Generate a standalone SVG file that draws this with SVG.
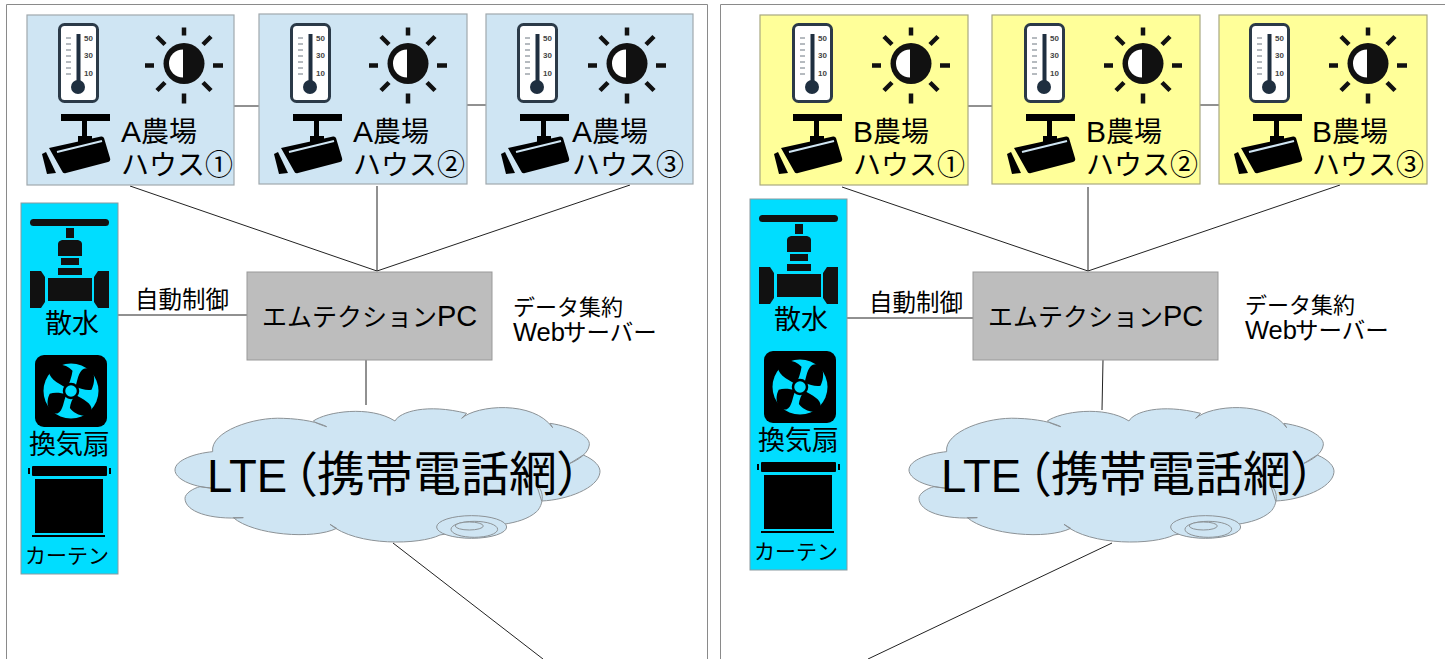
<svg xmlns="http://www.w3.org/2000/svg" width="1445" height="659" viewBox="0 0 1445 659">
<style>
text{font-family:"Liberation Sans","Noto Sans CJK JP",sans-serif;fill:#000}
.frame{fill:#fff;stroke:#8a8a8a;stroke-width:1}
.a{fill:#cfe5f3;stroke:#a0a8ad;stroke-width:1.2}
.b{fill:#ffff99;stroke:#a8a880;stroke-width:1.2}
.c{fill:#00ddff;stroke:#8a9aa0;stroke-width:1}
.pc{fill:#bdbdbd;stroke:#999;stroke-width:1}
.l{stroke:#222;stroke-width:1;fill:none}
.h{font-size:28px}
.la{font-size:30px}
.m{font-size:23.500px}
.d{font-size:22px}
.w{font-size:25.500px}
.sv{font-size:23.500px}
.k{font-size:25px}
.pcl{font-size:29px}
.n{font-size:8px;font-weight:bold;fill:#444}
</style>
<defs>
<g id="therm">
<rect x="1.500" y="1.500" width="38" height="77" rx="5" fill="#fff" stroke="#2b3a48" stroke-width="3"/>
<rect x="18.500" y="11" width="4" height="50" fill="#1f2f40"/>
<circle cx="20" cy="64" r="7" fill="#1f2f40"/>
<path d="M8 15h5M8 21h5M8 27h5M8 33h5M8 39h5M8 45h5M8 51h5" stroke="#6d7680" stroke-width="1"/>
<text x="26" y="18" class="n">50</text>
<text x="26" y="35" class="n">30</text>
<text x="26" y="53" class="n">10</text>
</g>
<g id="sun">
<circle cx="0" cy="-2" r="20.500" fill="#111"/>
<path d="M-1 -16A14 14 0 0 0 -1 12Z" fill="#fff"/>
<path d="M0 -38V-30M0 28V38M-39 0H-30M29 0H39M-27 -29L-19 -21M27 -29L19 -21M-27 25L-19 17M27 25L19 17" stroke="#111" stroke-width="4.500" fill="none"/>
</g>
<g id="cam" fill="#000">
<rect x="20" y="0" width="49" height="7"/>
<rect x="41" y="7" width="5" height="16"/>
<rect x="37" y="22" width="14" height="6"/>
<path d="M8 34L60 22.500Q62 22 63 24L69 44Q70 47 67 48L25 59Q22 60 21 57Z"/>
<path d="M1 40L5 38L15 59L6 60Z"/>
<path d="M16 38L61 27" stroke="#cfe5f3" stroke-width="2" fill="none"/>
</g>
<g id="valve" fill="#111">
<rect x="10" y="16" width="79" height="7" rx="3.500"/>
<rect x="46" y="25" width="8" height="10"/>
<path d="M38 41Q38 38 42 37H58Q62 38 62 41V53H38Z"/>
<rect x="41" y="55" width="18" height="7"/>
<rect x="38" y="65" width="24" height="7"/>
<rect x="28" y="75" width="44" height="23"/>
<path d="M10 68H21L25 74V99L21 105H10Z"/>
<path d="M78 68H89V105H78L74 99V74Z"/>
</g>
<g id="fan">
<rect x="0" y="0" width="72" height="72" rx="9" fill="#000"/>
<circle cx="36" cy="36" r="27.500" fill="#00ddff"/>
<g transform="translate(36,36) scale(.38) translate(-138,-125)" fill="#000">
<path d="M128 118C100 104 75 88 82 70C90 50 122 50 142 72C140 88 134 104 128 118Z"/>
<path d="M150 114C156 90 160 66 178 65C200 66 205 95 192 122C178 124 164 120 150 114Z"/>
<path d="M148 134C170 146 195 158 192 176C185 198 152 192 135 170C136 158 142 146 148 134Z"/>
<path d="M126 134C118 150 118 178 102 184C82 186 68 160 82 132C96 128 112 130 126 134Z"/>
</g>
<circle cx="36" cy="36" r="7" fill="#00ddff" stroke="#000" stroke-width="2.500"/>
</g>
<g id="curtain" fill="#000">
<rect x="2" y="0" width="75" height="10" rx="1"/>
<rect x="-2" y="2" width="2" height="6"/>
<rect x="79" y="2" width="2" height="6"/>
<rect x="5" y="13" width="68" height="54"/>
<rect x="2" y="69" width="73" height="2"/>
</g>
<g id="cloud">
<path transform="translate(170,395) scale(.3333)" fill="#cfe5f3" stroke="#8c9296" stroke-width="3" stroke-linejoin="round" d="M128 170C120 110 250 65 340 70C400 72 445 82 470 95C445 88 432 80 430 78C470 50 600 30 675 78C690 50 770 25 890 55L875 70C920 30 1090 15 1148 98L1140 85C1210 95 1262 125 1258 150C1255 175 1225 195 1200 205L1240 180C1275 195 1292 215 1290 232C1285 280 1190 315 1115 318L1100 270C1125 290 1120 330 1100 350C1075 372 1040 382 1000 388L810 420C750 450 560 455 480 388L500 400C430 435 250 420 190 368L220 368C120 375 45 350 45 310C45 295 70 280 90 275L130 280C60 275 15 250 15 225C15 195 75 175 128 170Z"/>
<g transform="translate(170,395) scale(.3333)" fill="#cfe5f3" stroke="#8c9296" stroke-width="3">
<ellipse cx="905" cy="396" rx="105" ry="34"/>
<ellipse cx="913" cy="403" rx="70" ry="24"/>
<ellipse cx="898" cy="393" rx="42" ry="12"/>
</g>
<text y="492" style="font-size:45.500px"><tspan x="207">LTE</tspan><tspan x="270" style="font-size:48px">（</tspan><tspan x="317" y="491" style="font-size:48px">携帯電話網</tspan><tspan x="556" style="font-size:48px">）</tspan></text>
</g>
</defs>

<g id="frames">
<path class="frame" d="M6.500 659V4.500H707.500V659"/>
<path class="frame" d="M720.500 659V4.500H1445"/>
</g>

<g id="connectors">
<path class="l" d="M130 186L377 271M377 186V271M630 185L377 271M234 106H259M467 105H486M118 315H247M366 360V405M393 543L543 659"/>
<path class="l" d="M842 187L1088 271M1088 187V271M1340 185L1088 271M968 106H992M1200 105H1219M847 318H973M1103 360L1102 410M1112 543L868 659"/>
</g>

<g id="a1"><rect class="a" x="27" y="15" width="207" height="170"/><use href="#therm" x="58" y="23"/><use href="#sun" x="184" y="65.500"/><use href="#cam" x="41" y="114"/><text class="h" x="121" y="142"><tspan class="la">A</tspan>農場</text><text class="h" x="121" y="175">ハウス①</text></g>
<g id="a2"><rect class="a" x="259" y="14" width="208" height="170"/><use href="#therm" x="290" y="23"/><use href="#sun" x="408" y="65.500"/><use href="#cam" x="273" y="114"/><text class="h" x="353" y="142"><tspan class="la">A</tspan>農場</text><text class="h" x="353" y="175">ハウス②</text></g>
<g id="a3"><rect class="a" x="486" y="14" width="207" height="170"/><use href="#therm" x="517" y="23"/><use href="#sun" x="627" y="65.500"/><use href="#cam" x="500" y="114"/><text class="h" x="572" y="142"><tspan class="la">A</tspan>農場</text><text class="h" x="572" y="175">ハウス③</text></g>
<g id="b1"><rect class="b" x="760" y="15" width="208" height="170"/><use href="#therm" x="792" y="23"/><use href="#sun" x="911" y="65.500"/><use href="#cam" x="773" y="114"/><text class="h" x="853" y="142"><tspan class="la">B</tspan>農場</text><text class="h" x="853" y="175">ハウス①</text></g>
<g id="b2"><rect class="b" x="992" y="15" width="208" height="169"/><use href="#therm" x="1024" y="23"/><use href="#sun" x="1143" y="65.500"/><use href="#cam" x="1006" y="114"/><text class="h" x="1086" y="142"><tspan class="la">B</tspan>農場</text><text class="h" x="1086" y="175">ハウス②</text></g>
<g id="b3"><rect class="b" x="1219" y="15" width="208" height="169"/><use href="#therm" x="1249" y="23"/><use href="#sun" x="1368" y="65.500"/><use href="#cam" x="1233" y="114"/><text class="h" x="1312" y="142"><tspan class="la">B</tspan>農場</text><text class="h" x="1312" y="175">ハウス③</text></g>

<g id="ctrl-a">
<rect class="c" x="21" y="203" width="97" height="371"/>
<use href="#valve" x="20" y="203"/>
<text x="45" y="333" style="font-size:27px">散水</text>
<use href="#fan" x="35" y="355"/>
<text x="29" y="454" style="font-size:27px">換気扇</text>
<use href="#curtain" x="30" y="466"/>
<text x="25" y="563" style="font-size:21px">カーテン</text>
</g>
<g id="ctrl-b">
<rect class="c" x="750" y="199" width="97" height="371"/>
<use href="#valve" x="749" y="199"/>
<text x="774" y="329" style="font-size:27px">散水</text>
<use href="#fan" x="764" y="351"/>
<text x="758" y="450" style="font-size:27px">換気扇</text>
<use href="#curtain" x="759" y="462"/>
<text x="754" y="559" style="font-size:21px">カーテン</text>
</g>

<g id="pc-a"><rect class="pc" x="247" y="272" width="245" height="88"/><text class="k" x="262" y="326">エムテクション<tspan class="pcl">PC</tspan></text></g>
<g id="pc-b"><rect class="pc" x="973" y="272" width="245" height="88"/><text class="k" x="988" y="326">エムテクション<tspan class="pcl">PC</tspan></text></g>

<g id="cloud-a"><use href="#cloud"/></g>
<g id="cloud-b"><use href="#cloud" x="734" y="0"/></g>

<g id="labels">
<text class="m" x="135" y="308">自動制御</text>
<text class="m" x="869" y="311">自動制御</text>
<text class="d" x="513" y="315">データ集約</text>
<text class="d" x="513" y="341"><tspan class="w">Web</tspan><tspan class="sv" x="563">サーバー</tspan></text>
<text class="d" x="1245" y="313">データ集約</text>
<text class="d" x="1245" y="339"><tspan class="w">Web</tspan><tspan class="sv" x="1295">サーバー</tspan></text>
</g>
</svg>
